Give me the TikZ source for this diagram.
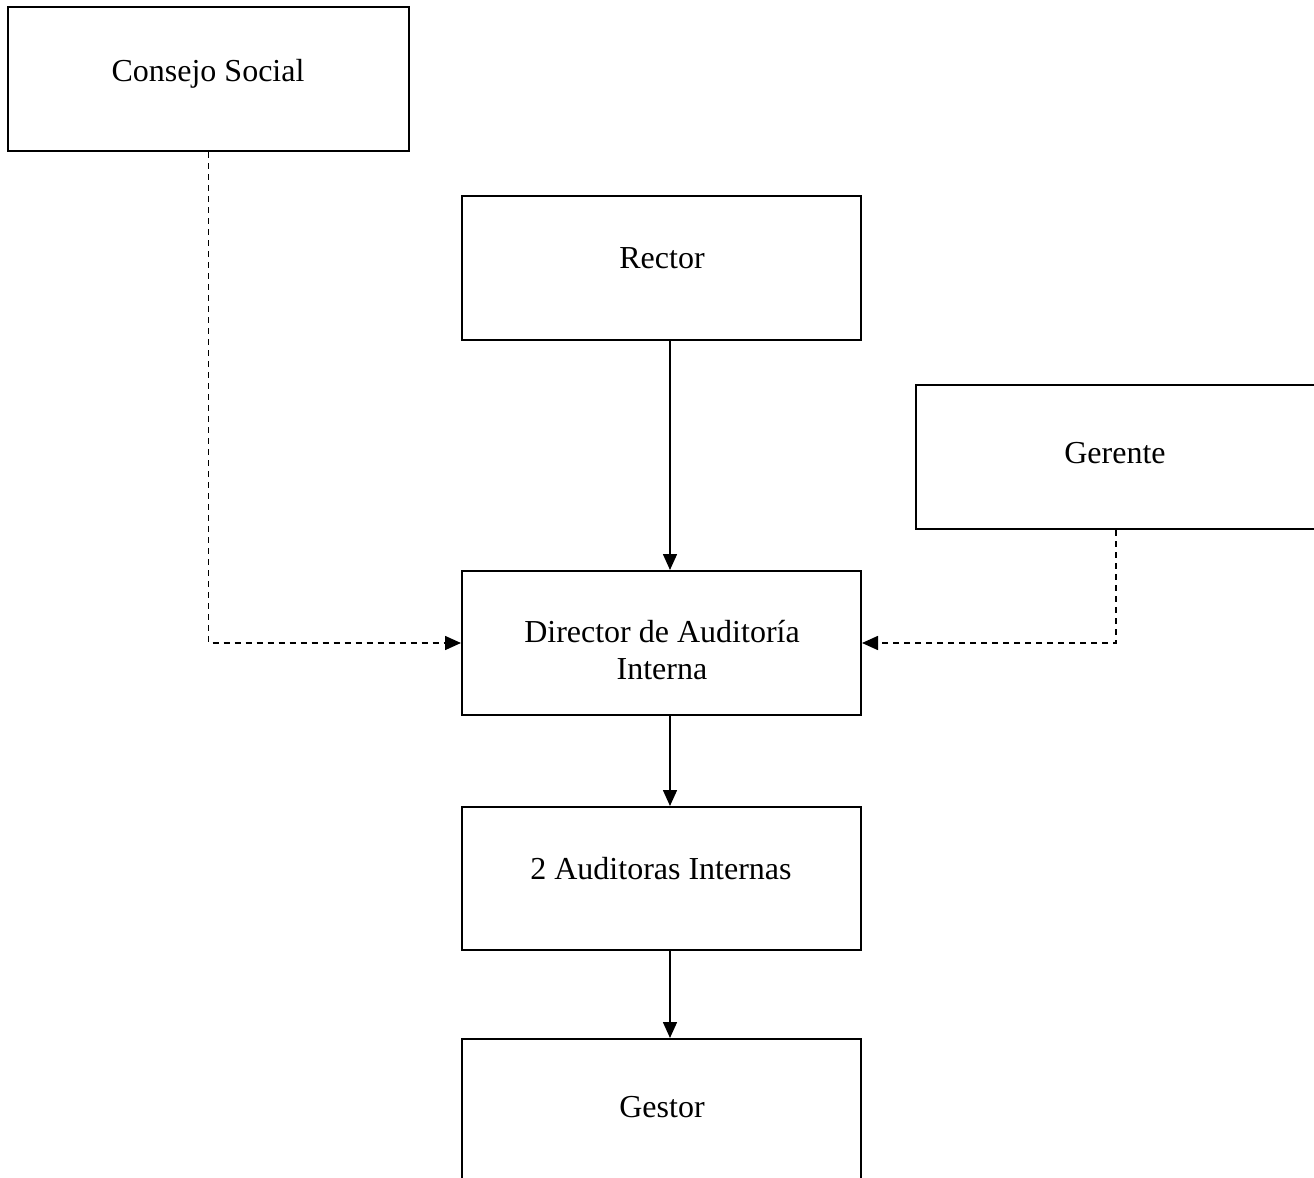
\documentclass[tikz,border=0pt]{standalone}
\usepackage{fontspec}
\setmainfont{Liberation Serif}
\usetikzlibrary{arrows.meta}
\begin{document}
\begin{tikzpicture}[x=0.5pt,y=-0.5pt,
  box/.style={draw,line width=1pt,inner sep=0pt},
  lbl/.style={font=\fontsize{16}{18.5}\selectfont,inner sep=0pt,align=center},
  solidarrow/.style={line width=0.8pt,-{Triangle[length=8pt,width=7pt]}},
  dasharrow/.style={line width=0.8pt,dash pattern=on 3pt off 2.5pt,-{Triangle[length=8pt,width=7pt]}}]
\useasboundingbox (0,0) rectangle (1314,1178);
% boxes
\node[box,minimum width=200.5pt,minimum height=72pt] (cs) at (208.5,79) {};
\node[box,minimum width=199.5pt,minimum height=72pt] (rector) at (661.5,268) {};
\node[box,minimum width=200pt,minimum height=72pt] (gerente) at (1116,457) {};
\node[box,minimum width=199.5pt,minimum height=72pt] (dir) at (661.5,643) {};
\node[box,minimum width=199.5pt,minimum height=71.5pt] (aud) at (661.5,878.5) {};
\node[box,minimum width=199.5pt,minimum height=72pt] (gestor) at (661.5,1111) {};
% labels
\node[lbl,anchor=base] (tcs) at (208,81) {Consejo Social};
\node[lbl,anchor=base] (trector) at (662,268) {Rector};
\node[lbl,anchor=base] (tgerente) at (1115,463) {Gerente};
\node[lbl,anchor=center] (tdir) at (662,650) {Director de Auditoría\\Interna};
\node[lbl,anchor=base] (taud) at (661,879) {2 Auditoras Internas};
\node[lbl,anchor=base] (tgestor) at (662,1117) {Gestor};
% vertical line of the chain of command
\coordinate (spine) at (670,0);
\draw[solidarrow] (rector.south -| spine) -- (dir.north -| spine);
\draw[solidarrow] (dir.south -| spine) -- (aud.north -| spine);
\draw[solidarrow] (aud.south -| spine) -- (gestor.north -| spine);
% dashed reporting lines
\draw[dasharrow] (cs.south) -- (cs.south |- dir.west) -- (dir.west);
\draw[dasharrow] (gerente.south) -- (gerente.south |- dir.east) -- (dir.east);
\end{tikzpicture}
\end{document}
